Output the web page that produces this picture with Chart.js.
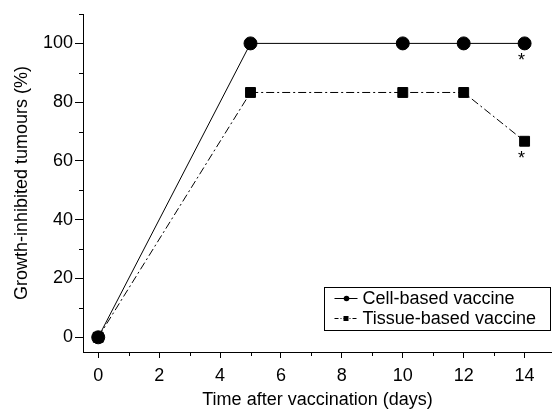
<!DOCTYPE html>
<html><head><meta charset="utf-8">
<script src="https://cdn.jsdelivr.net/npm/chart.js@4/dist/chart.umd.min.js"></script>
<style>html,body{margin:0;padding:0;background:#fff}#wrap{width:552px;height:409px}</style>
</head><body><div id="wrap"><canvas id="c" width="552" height="409"></canvas></div>
<script>
const days = [0, 5, 10, 12, 14];
const cellBased = [0, 100, 100, 100, 100];
const tissueBased = [0, 83.3, 83.3, 83.3, 66.7];
const seriesLabels = ['Cell-based vaccine', 'Tissue-based vaccine'];
const xTicks = [0, 2, 4, 6, 8, 10, 12, 14];
const yTicks = [0, 20, 40, 60, 80, 100];
const starredDays = [14];

const FONT = 'Liberation Sans, Arial, sans-serif';

const extras = {
  id: 'extras',
  afterDraw(chart) {
    const ctx = chart.ctx;
    const xs = chart.scales.x, ys = chart.scales.y;
    ctx.save();
    ctx.strokeStyle = '#000'; ctx.lineWidth = 1;
    // minor ticks
    for (let v = 1; v <= 14; v += 2) {
      const px = Math.round(xs.getPixelForValue(v)) + 0.5;
      ctx.beginPath(); ctx.moveTo(px, xs.top); ctx.lineTo(px, xs.top + 4); ctx.stroke();
    }
    for (let v = 10; v <= 110; v += 20) {
      const py = Math.round(ys.getPixelForValue(v)) + 0.5;
      ctx.beginPath(); ctx.moveTo(ys.right, py); ctx.lineTo(ys.right - 4, py); ctx.stroke();
    }
    // asterisks
    ctx.fillStyle = '#000';
    ctx.font = '18px ' + FONT;
    ctx.textAlign = 'center'; ctx.textBaseline = 'middle';
    chart.data.datasets.forEach((ds, i) => {
      const meta = chart.getDatasetMeta(i);
      ds.data.forEach((d, j) => {
        if (starredDays.includes(d.x)) {
          const el = meta.data[j];
          ctx.fillText('*', el.x - 3, el.y + 18);
        }
      });
    });
    // legend
    const bx = 324.5, by = 287.5, bw = 226, bh = 43;
    ctx.strokeRect(bx, by, bw, bh);
    ctx.font = '18px ' + FONT;
    ctx.textAlign = 'left';
    chart.data.datasets.forEach((ds, i) => {
      const yy = by + 11 + i * 20;
      ctx.beginPath();
      ctx.setLineDash(ds.borderDash ? [4, 2, 1, 2] : []);
      ctx.moveTo(bx + 10, yy); ctx.lineTo(bx + 33, yy); ctx.stroke();
      ctx.setLineDash([]);
      if (ds.pointStyle === 'circle') {
        ctx.beginPath(); ctx.arc(bx + 22, yy, 2.8, 0, Math.PI * 2); ctx.fill();
      } else {
        ctx.fillRect(bx + 19, yy - 2.5, 5, 5);
      }
      ctx.fillText(ds.label, bx + 38, yy + 1);
    });
    ctx.restore();
  }
};

new Chart(document.getElementById('c'), {
  type: 'line',
  data: {
    datasets: [
      {
        label: seriesLabels[0],
        data: days.map((d, i) => ({ x: d, y: cellBased[i] })),
        borderColor: '#000', backgroundColor: '#000', borderWidth: 1,
        pointStyle: 'circle', pointRadius: 6.5, pointHoverRadius: 6.5, tension: 0
      },
      {
        label: seriesLabels[1],
        data: days.map((d, i) => ({ x: d, y: tissueBased[i] })),
        borderColor: '#000', backgroundColor: '#000', borderWidth: 1,
        borderDash: [8, 3, 2, 3],
        pointStyle: 'rect', pointRadius: 7, pointHoverRadius: 7, tension: 0
      }
    ]
  },
  options: {
    responsive: false, animation: false,
    layout: { autoPadding: false, padding: { left: 0, right: 0, top: 14, bottom: 0 } },
    plugins: { legend: { display: false }, tooltip: { enabled: false } },
    scales: {
      x: {
        type: 'linear', min: -0.5, max: 14.9,
        afterBuildTicks(s) { s.ticks = xTicks.map(v => ({ value: v })); },
        afterFit(s) { s.height = 57; s.paddingRight = 0; s.paddingLeft = 0; },
        border: { display: true, color: '#000', width: 1 },
        grid: { display: true, drawOnChartArea: false, drawTicks: true, tickLength: 6, color: '#000' },
        ticks: { color: '#000', font: { family: FONT, size: 18 }, padding: 7, maxRotation: 0 },
        title: { display: true, text: 'Time after vaccination (days)', color: '#000', font: { family: FONT, size: 18 }, padding: { top: 0, bottom: -2 } }
      },
      y: {
        type: 'linear', min: -5, max: 110,
        afterBuildTicks(s) { s.ticks = yTicks.map(v => ({ value: v })); },
        afterFit(s) { s.width = 83; s.paddingTop = 0; s.paddingBottom = 0; },
        border: { display: true, color: '#000', width: 1 },
        grid: { display: true, drawOnChartArea: false, drawTicks: true, tickLength: 8, color: '#000' },
        ticks: { color: '#000', font: { family: FONT, size: 18 }, padding: 2 },
        title: { display: true, text: 'Growth-inhibited tumours (%)', color: '#000', font: { family: FONT, size: 18 }, padding: { top: 11, bottom: 0 } }
      }
    }
  },
  plugins: [extras]
});
</script></body></html>
